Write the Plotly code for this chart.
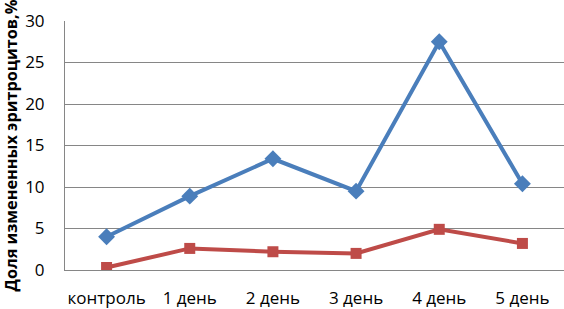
import plotly.graph_objects as go

categories = ["контроль", "1 день", "2 день", "3 день", "4 день", "5 день"]
series_blue = [4.0, 8.9, 13.4, 9.5, 27.5, 10.4]
series_red = [0.3, 2.6, 2.2, 2.0, 4.9, 3.2]
y_ticks = [0, 5, 10, 15, 20, 25, 30]

fig = go.Figure()
fig.add_trace(go.Scatter(
    x=categories, y=series_blue, mode="lines+markers",
    line=dict(color="#4A7EBB", width=4),
    marker=dict(symbol="diamond", size=13, color="#4A7EBB"),
    showlegend=False))
fig.add_trace(go.Scatter(
    x=categories, y=series_red, mode="lines+markers",
    line=dict(color="#BE4B48", width=4),
    marker=dict(symbol="square", size=11, color="#BE4B48"),
    showlegend=False))

fig.update_layout(
    width=564, height=309,
    margin=dict(l=65, r=0, t=21, b=39),
    paper_bgcolor="white", plot_bgcolor="white",
    font=dict(family="Open Sans, Liberation Sans, sans-serif", color="#000000"),
    xaxis=dict(
        type="category", range=[-0.5, 5.5], automargin=False,
        showgrid=False, showline=True, linecolor="#868686", linewidth=1,
        ticks="", tickfont=dict(size=17), ticklabelstandoff=13),
    yaxis=dict(
        range=[0, 30], tickvals=y_ticks, showgrid=True, gridcolor="#868686", gridwidth=1,
        showline=True, linecolor="#868686", linewidth=1, zeroline=False, automargin=False,
        ticks="", tickfont=dict(size=17), ticklabelstandoff=16,
        title=dict(text="<b>Доля измененных эритроцитов,%</b>", font=dict(size=16.3), standoff=5)),
)
fig.write_html("out.html", config={"displayModeBar": False},
               post_script="document.body.style.margin='0';")
